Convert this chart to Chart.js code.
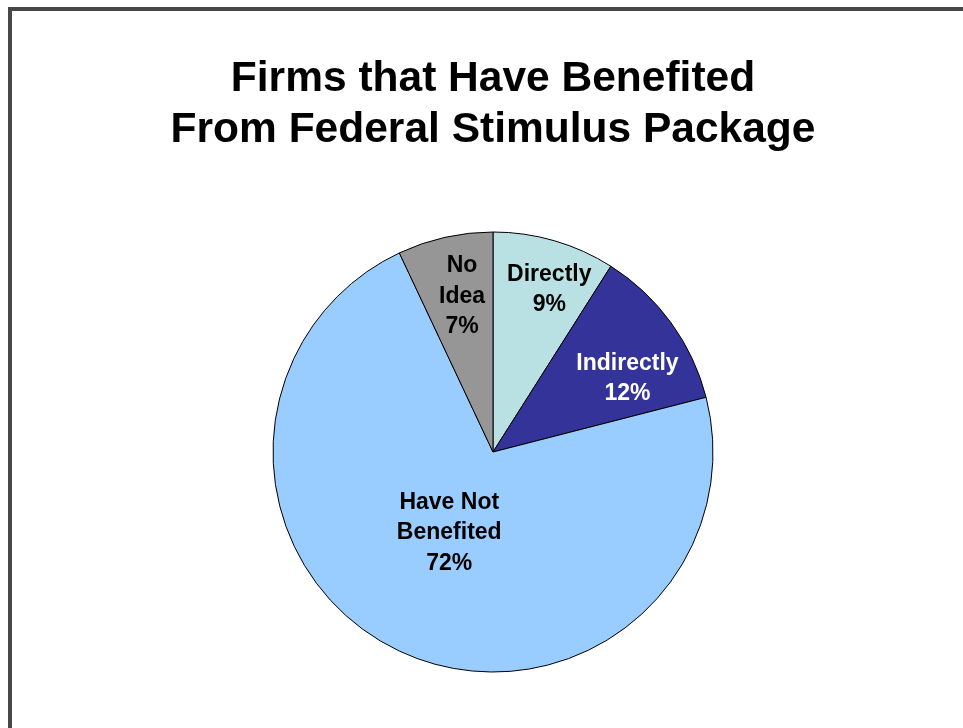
<!DOCTYPE html>
<html>
<head>
<meta charset="utf-8">
<script src="https://cdn.jsdelivr.net/npm/chart.js@4/dist/chart.umd.min.js"></script>
<style>
  html, body { margin: 0; padding: 0; background: #fff; }
  #wrap { position: relative; width: 963px; height: 728px; overflow: hidden; }
  #frame {
    position: absolute; left: 8px; top: 7px; right: -10px; bottom: -10px;
    border-top: 4px solid #474747; border-left: 4px solid #474747;
    pointer-events: none;
  }
  canvas { position: absolute; left: 0; top: 0; }
</style>
</head>
<body>
<div id="wrap">
  <canvas id="chart" width="963" height="728"></canvas>
  <div id="frame"></div>
</div>
<script>
// Survey shares, clockwise from 12 o'clock
const categories = ['Directly', 'Indirectly', 'Have Not Benefited', 'No Idea'];
const labelLines = [['Directly'], ['Indirectly'], ['Have Not', 'Benefited'], ['No', 'Idea']];
const shares = [9, 12, 72, 7];
const sliceColors = ['#B9E1E3', '#333399', '#99CCFF', '#969696'];
const labelColors = ['#000000', '#FFFFFF', '#000000', '#000000'];
const titleLines = ['Firms that Have Benefited', 'From Federal Stimulus Package'];

const FONT = '"Liberation Sans", Arial, Helvetica, sans-serif';

// Writes category name and percentage inside each slice
const sliceLabels = {
  id: 'sliceLabels',
  afterDatasetsDraw(chart, args, opts) {
    const { ctx } = chart;
    const meta = chart.getDatasetMeta(0);
    ctx.save();
    ctx.font = 'bold ' + opts.size + 'px ' + FONT;
    ctx.textAlign = 'center';
    ctx.textBaseline = 'middle';
    meta.data.forEach((arc, i) => {
      const p = arc.getProps(['x', 'y', 'startAngle', 'endAngle', 'outerRadius'], true);
      const ang = (p.startAngle + p.endAngle) / 2 + opts.angleShift[i] * Math.PI / 180;
      const r = p.outerRadius * opts.radial[i];
      const cx = p.x + Math.cos(ang) * r;
      const cy = p.y + Math.sin(ang) * r + opts.nudgeY;
      const lines = labelLines[i].concat([shares[i] + '%']);
      const lh = opts.lineHeight;
      const y0 = cy - (lines.length - 1) * lh / 2;
      ctx.fillStyle = labelColors[i];
      lines.forEach((t, k) => ctx.fillText(t, cx, y0 + k * lh));
    });
    ctx.restore();
  }
};

new Chart(document.getElementById('chart'), {
  type: 'pie',
  data: {
    labels: categories,
    datasets: [{
      data: shares,
      backgroundColor: sliceColors,
      borderColor: '#000000',
      borderWidth: 1,
      radius: 220
    }]
  },
  options: {
    responsive: false,
    animation: false,
    layout: { padding: { left: 23, right: 0, top: 0, bottom: 5 } },
    plugins: {
      legend: { display: false },
      tooltip: { enabled: false },
      title: {
        display: true,
        text: titleLines,
        color: '#000000',
        font: { family: FONT, size: 42.5, weight: 'bold', lineHeight: 1.2 },
        padding: { top: 54, bottom: 25 }
      },
      sliceLabels: {
        size: 23,
        lineHeight: 30.5,
        nudgeY: 2,
        radial: [0.79, 0.70, 0.41, 0.73],
        angleShift: [2.7, 6.8, 3.8, 1.5]
      }
    }
  },
  plugins: [sliceLabels]
});
</script>
</body>
</html>
